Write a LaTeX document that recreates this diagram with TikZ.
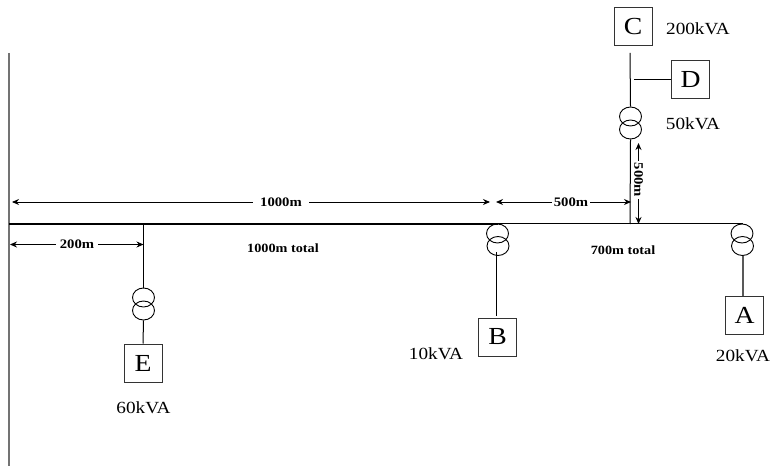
\documentclass[tikz,border=0pt]{standalone}
\usepackage{fontspec}
\setmainfont{Liberation Serif}
\newfontfamily\widefont[FakeStretch=1.13]{Liberation Serif}
\usetikzlibrary{arrows.meta,shapes.geometric}
\tikzset{
  wire/.style={draw=black,line width=1pt},
  bar/.style={draw=black,line width=2pt},
  rail/.style={draw=black!55,line width=1.3pt},
  load/.style={draw=black!80,line width=1pt,minimum width=38pt,minimum height=38pt,inner sep=0pt,font=\widefont\fontsize{24.5}{25}\selectfont},
  coil/.style={draw=black,ellipse,line width=0.9pt,minimum width=22pt,minimum height=19pt,inner sep=0pt},
  rating/.style={font=\widefont\fontsize{17}{18}\selectfont,inner sep=0pt},
  dim/.style={font=\widefont\bfseries\fontsize{13}{14}\selectfont,inner sep=3pt},
  note/.style={font=\widefont\bfseries\fontsize{12.6}{14}\selectfont,inner sep=0pt},
  dimline/.style={draw=black,line width=0.9pt,-{Stealth[length=7pt,width=6pt]}}
}
\begin{document}
\begin{tikzpicture}[x=1pt,y=-1pt]
\useasboundingbox (0,0) rectangle (770,470);
% rail and bus
\coordinate (railT) at (9,53);
\coordinate (railB) at (9,466);
\coordinate (busL) at (9,224);
\coordinate (busM) at (498,224);
\coordinate (busR) at (743,224);
\coordinate (tapE) at (143.5,224);
\coordinate (tapC) at (630,224);
\draw[rail] (railT) -- (railB);
\draw[bar] (busL) -- (busM);
\draw[wire] (busM) -- (busR);
% E
\node[load] (boxE) at (143,363) {E};
\node[coil] (trE1) at (143.5,297.5) {};
\node[coil] (trE2) at (143.5,310.5) {};
\draw[wire] (tapE) -- (trE1.north);
\draw[wire] (trE2.south) -- (boxE.north);
\node[rating] (kvaE) at (143.5,408) {60kVA};
% B
\node[load] (boxB) at (497.5,337) {B};
\node[coil] (trB1) at (497.5,233.5) {};
\node[coil] (trB2) at (498,246) {};
\coordinate (bT) at (496,252);
\coordinate (bB) at (496,316);
\draw[wire] (bT) -- (bB);
\node[rating] (kvaB) at (436,354) {10kVA};
% A
\node[load] (boxA) at (744.5,315) {A};
\node[coil] (trA1) at (742,233.5) {};
\node[coil] (trA2) at (742.5,246) {};
\coordinate (aB) at (743,296);
\coordinate (aT) at (743,255.5);
\draw[draw=black!65,line width=1.2pt] (aT) -- (aB);
\node[rating] (kvaA) at (743,356) {20kVA};
% C, D
\node[load] (boxC) at (633,27) {C};
\node[load] (boxD) at (690.5,80) {D};
\node[coil] (trC1) at (630.5,116.5) {};
\node[coil] (trC2) at (630.5,129.5) {};
\coordinate (cT) at (630,53);
\coordinate (dL) at (634,80);
\draw[wire] (cT) -- (trC1.north);
\draw[wire] (trC2.south) -- (tapC);
\draw[wire] (dL) -- (boxD.west);
\node[rating] (kvaC) at (698,29) {200kVA};
\node[rating] (kvaD) at (693,124) {50kVA};
% dimensions
\node[dim,inner sep=7pt] (d1000) at (281,202) {1000m};
\coordinate (d1000L) at (12,202);
\coordinate (d1000R) at (490,202);
\draw[dimline] (d1000) -- (d1000L);
\draw[dimline] (d1000) -- (d1000R);
\node[dim,inner sep=2pt] (d500) at (571,202) {500m};
\coordinate (d500L) at (496,202);
\coordinate (d500R) at (631,202);
\draw[dimline] (d500) -- (d500L);
\draw[dimline] (d500) -- (d500R);
\node[dim,inner sep=4pt] (d200) at (77,244.5) {200m};
\coordinate (d200L) at (10,244.5);
\coordinate (d200R) at (143.5,244.5);
\draw[dimline] (d200) -- (d200L);
\draw[dimline] (d200) -- (d200R);
\node[dim,rotate=-90,inner sep=2pt] (d500v) at (638.5,180) {500m};
\coordinate (d500T) at (638.5,143);
\coordinate (d500B) at (638.5,224);
\draw[dimline] (d500v) -- (d500T);
\draw[dimline] (d500v) -- (d500B);
\node[note] (t1000) at (283,248) {1000m total};
\node[note] (t700) at (623,250) {700m total};
\end{tikzpicture}
\end{document}
